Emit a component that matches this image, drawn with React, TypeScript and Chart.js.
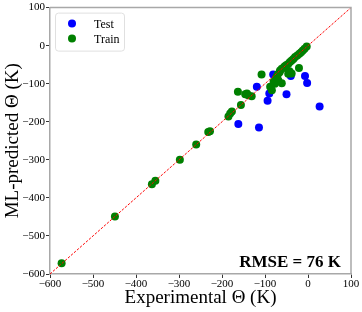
import React, { useEffect, useRef } from "react";
import { Chart, registerables } from "chart.js";

Chart.register(...registerables);

const testX = [-81, -119, -40, -7, -2, -90, -50, -94, 27, -162, -114, -72];
const testY = [-76, -108, -80, -80, -98, -126, -128, -145, -160, -206, -215, -92];

const trainX = [-573, -449, -363, -355, -298, -260, -232, -228, -185, -181, -177, -156, -163, -146, -142, -139, -131, -108, -88, -84, -77, -73, -69, -61, -61, -54, -46, -38, -30, -20, -12, -3, -21, -38, -43, -46, -65, -57, -50, -42, -34, -25, -16, -8, -70, -66, -75, -80];
const trainY = [-572, -449, -364, -355, -300, -260, -227, -225, -186, -178, -173, -156, -121, -128, -126, -130, -133, -76, -108, -117, -100, -82, -91, -99, -61, -54, -48, -39, -30, -21, -13, -2, -59, -73, -67, -74, -65, -58, -51, -43, -35, -26, -17, -8, -75, -70, -88, -95];

const axisMin = -600;
const axisMax = 100;
const tickStep = 100;
const legendLabels = ["Test", "Train"];
const rmseText = "RMSE = 76 K";

const SERIF = "'Liberation Serif', 'Times New Roman', serif";

const fmt = (v: number) => (v < 0 ? "\u2212" + Math.abs(v) : String(v));

export default function App() {
  const ref = useRef<HTMLCanvasElement | null>(null);
  useEffect(() => {
    if (!ref.current) return;
    const extras = {
      id: "extras",
      afterDatasetsDraw(chart: any) {
        const { ctx, chartArea } = chart;
        const { left, right, top, bottom } = chartArea;
        ctx.save();
        // frame top/right
        ctx.strokeStyle = "#a8a8a8";
        ctx.lineWidth = 1.5;
        ctx.beginPath();
        ctx.moveTo(left, top);
        ctx.lineTo(right, top);
        ctx.lineTo(right, bottom);
        ctx.stroke();
        // legend
        const lx = left + 5, ly = top + 5, lw = 69, lh = 38;
        ctx.fillStyle = "rgba(255,255,255,0.8)";
        ctx.strokeStyle = "#e0e0e0";
        ctx.lineWidth = 1;
        ctx.beginPath();
        (ctx as any).roundRect(lx + 0.5, ly + 0.5, lw, lh, 3);
        ctx.fill();
        ctx.stroke();
        const colors = ["#0000ff", "#008000"];
        ctx.font = `12px ${SERIF}`;
        ctx.textBaseline = "alphabetic";
        ctx.textAlign = "left";
        legendLabels.forEach((lab, i) => {
          const cy = ly + 11 + i * 15;
          ctx.fillStyle = colors[i];
          ctx.beginPath();
          ctx.arc(lx + 17, cy, 4, 0, Math.PI * 2);
          ctx.fill();
          ctx.fillStyle = "#000";
          ctx.fillText(lab, lx + 39, cy + 4.5);
        });
        // RMSE
        ctx.font = `bold 17px ${SERIF}`;
        ctx.textAlign = "right";
        ctx.textBaseline = "alphabetic";
        ctx.fillStyle = "#000";
        ctx.fillText(rmseText, right - 10, bottom - 7);
        ctx.restore();
      },
    };
    const chart = new Chart(ref.current, {
      type: "scatter",
      data: {
        datasets: [
          {
            type: "line",
            label: "diag",
            data: [
              { x: axisMin, y: axisMin },
              { x: axisMax, y: axisMax },
            ],
            borderColor: "#ff0000",
            borderWidth: 1,
            borderDash: [2.5, 1.5],
            pointRadius: 0,
            fill: false,
          } as any,
          {
            label: "Train",
            data: trainX.map((x, i) => ({ x, y: trainY[i] })),
            backgroundColor: "#008000",
            borderColor: "#008000",
            pointRadius: 4,
            borderWidth: 0,
          },
          {
            label: "Test",
            data: testX.map((x, i) => ({ x, y: testY[i] })),
            backgroundColor: "#0000ff",
            borderColor: "#0000ff",
            pointRadius: 4,
            borderWidth: 0,
          },
        ],
      },
      options: {
        animation: false,
        responsive: false,
        maintainAspectRatio: false,
        layout: { padding: { top: 5, right: 11, left: 0, bottom: 0 } },
        plugins: { legend: { display: false }, tooltip: { enabled: false } },
        scales: {
          x: {
            type: "linear",
            min: axisMin,
            max: axisMax,
            afterFit(s: any) {
              s.height = 38;
            },
            ticks: {
              stepSize: tickStep,
              callback: (v: any) => fmt(Number(v)),
              font: { family: SERIF, size: 11 },
              color: "#000",
              padding: 0,
              maxRotation: 0,
            },
            grid: { drawOnChartArea: false, drawTicks: true, tickLength: 4, color: "#333" },
            border: { display: true, color: "#a8a8a8", width: 1.5 },
            title: {
              display: true,
              text: "Experimental \u0398 (K)",
              font: { family: SERIF, size: 19 },
              color: "#000",
              padding: { top: 0, bottom: 2.5 },
            },
          },
          y: {
            type: "linear",
            min: axisMin,
            max: axisMax,
            afterFit(s: any) {
              s.width = 50;
            },
            ticks: {
              stepSize: tickStep,
              callback: (v: any) => fmt(Number(v)),
              font: { family: SERIF, size: 11 },
              color: "#000",
              padding: 1,
            },
            grid: { drawOnChartArea: false, drawTicks: true, tickLength: 4, color: "#333" },
            border: { display: true, color: "#a8a8a8", width: 1.5 },
            title: {
              display: true,
              text: "ML-predicted \u0398 (K)",
              font: { family: SERIF, size: 19 },
              color: "#000",
              padding: { top: 1.5, bottom: 0 },
            },
          },
        },
      },
      plugins: [extras],
    } as any);
    return () => chart.destroy();
  }, []);
  return (
    <div style={{ position: "fixed", left: 0, top: 0, width: 362, height: 312, background: "#fff" }}>
      <canvas ref={ref} width={362} height={312} style={{ width: 362, height: 312 }} />
    </div>
  );
}
